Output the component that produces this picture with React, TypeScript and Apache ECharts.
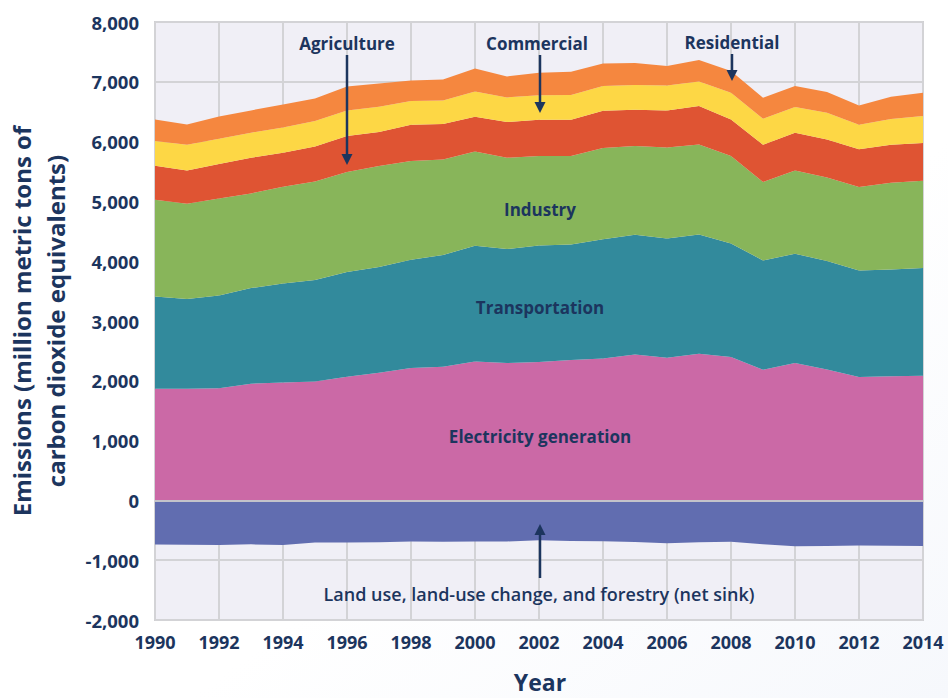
import React, { useEffect, useRef } from "react";
import * as echarts from "echarts";

const years = ["1990","1991","1992","1993","1994","1995","1996","1997","1998","1999","2000","2001","2002","2003","2004","2005","2006","2007","2008","2009","2010","2011","2012","2013","2014"];
const electricity = [1868,1868,1875,1951,1973,1990,2068,2135,2213,2235,2324,2296,2313,2346,2375,2441,2386,2453,2397,2185,2296,2191,2062,2074,2085];
const transportation = [1543,1498,1553,1599,1656,1694,1750,1767,1812,1868,1935,1907,1951,1935,1990,2002,1995,1995,1901,1828,1829,1811,1784,1789,1800];
const industry = [1617,1595,1622,1584,1616,1650,1672,1688,1649,1599,1577,1528,1494,1477,1526,1482,1522,1505,1460,1310,1393,1399,1393,1450,1461];
const agriculture = [569,557,574,597,569,586,603,569,608,591,580,596,608,608,626,608,619,641,613,625,631,636,631,635,629];
const commercial = [412,430,424,418,423,423,429,424,396,396,423,412,407,412,411,412,418,413,447,435,428,446,412,429,452];
const residential = [362,340,373,373,385,379,401,390,345,351,385,351,379,390,380,368,323,356,361,351,351,345,323,374,391];
const landUse = [-739,-742,-745,-735,-745,-705,-705,-700,-688,-690,-688,-686,-665,-680,-685,-695,-718,-700,-690,-735,-768,-762,-755,-760,-762];

const NAVY = "#1c355e";
const FONT = '"Open Sans", "Noto Sans", sans-serif';

function arrow(x: number, yStart: number, yTip: number) {
  const dir = yTip > yStart ? 1 : -1;
  return [
    { type: "line", shape: { x1: x, y1: yStart, x2: x, y2: yTip - dir * 8 }, style: { stroke: NAVY, lineWidth: 2.5 }, z: 100 },
    { type: "polygon", shape: { points: [[x - 5.5, yTip - dir * 11], [x + 5.5, yTip - dir * 11], [x, yTip]] }, style: { fill: NAVY }, z: 100 },
  ];
}

function label(text: string, x: number, y: number, size = 17, weight = "bold") {
  return {
    type: "text", x, y, z: 100,
    style: { text, fill: NAVY, font: `${weight} ${size}px ${FONT}`, align: "center", verticalAlign: "middle" },
  };
}

export default function App() {
  const ref = useRef<HTMLDivElement>(null);
  useEffect(() => {
    if (!ref.current) return;
    const chart = echarts.init(ref.current, null, { renderer: "svg" });
    const area = (name: string, vals: number[], color: string, stack?: string) => ({
      name, type: "line", data: vals, stack,
      showSymbol: false, symbol: "none", smooth: false,
      lineStyle: { width: 0 }, areaStyle: { color, opacity: 1 },
      itemStyle: { color }, silent: true,
    });
    chart.setOption({
      animation: false,
      backgroundColor: new echarts.graphic.LinearGradient(0, 0, 1, 1, [
        { offset: 0, color: "#ffffff" },
        { offset: 0.6, color: "#ffffff" },
        { offset: 1, color: "#f6f8fc" },
      ]),
      grid: {
        left: 155, right: 25, top: 22, bottom: 78,
        show: true, backgroundColor: "#f0eff6", borderColor: "#cfcfd2", borderWidth: 2,
      },
      xAxis: {
        type: "category", data: years, boundaryGap: false,
        axisLine: { show: false },
        axisTick: { show: true, interval: 1, length: 7, lineStyle: { color: "#cfcfd2", width: 2 } },
        splitLine: { show: true, interval: 1, lineStyle: { color: "#d3d3d6", width: 2 } },
        axisLabel: { interval: 1, color: NAVY, fontWeight: "bold", fontSize: 18, fontFamily: FONT, margin: 13 },
      },
      yAxis: {
        type: "value", min: -2000, max: 8000, interval: 1000,
        axisLine: { show: false }, axisTick: { show: false },
        splitLine: { show: true, lineStyle: { color: "#d3d3d6", width: 2 } },
        axisLabel: {
          color: NAVY, fontWeight: "bold", fontSize: 18.5, fontFamily: FONT, margin: 16,
          formatter: (v: number) => v.toLocaleString("en-US"),
        },
      },
      series: [
        area("Electricity generation", electricity, "#cb69a6", "pos"),
        area("Transportation", transportation, "#328a9c", "pos"),
        area("Industry", industry, "#88b55a", "pos"),
        area("Agriculture", agriculture, "#df5433", "pos"),
        area("Commercial", commercial, "#fdd745", "pos"),
        area("Residential", residential, "#f5873f", "pos"),
        {
          ...area("Land use, land-use change, and forestry (net sink)", landUse, "#616db0"),
          markLine: {
            silent: true, symbol: "none", label: { show: false },
            lineStyle: { color: "#c3c3ca", width: 2, type: "solid" },
            data: [{ yAxis: 0 }],
          },
        },
      ],
      graphic: [
        label("Agriculture", 347, 43),
        label("Commercial", 537, 43),
        label("Residential", 732, 42),
        label("Industry", 540, 209),
        label("Transportation", 540, 307),
        label("Electricity generation", 540, 436),
        label("Land use, land-use change, and forestry (net sink)", 539, 594, 18, "600"),
        ...arrow(347, 55, 165),
        ...arrow(540, 55, 113),
        ...arrow(732, 54, 81),
        ...arrow(540, 578, 524),
        {
          type: "text", x: 38, y: 321, rotation: Math.PI / 2, z: 100,
          style: {
            text: "Emissions (million metric tons of\ncarbon dioxide equivalents)",
            fill: NAVY, font: `bold 24px ${FONT}`, align: "center", verticalAlign: "middle", lineHeight: 34,
          },
        },
        label("Year", 540, 682, 23),
      ],
    });
    return () => chart.dispose();
  }, []);
  return <div ref={ref} style={{ position: "fixed", left: 0, top: 0, width: 948, height: 698 }} />;
}
